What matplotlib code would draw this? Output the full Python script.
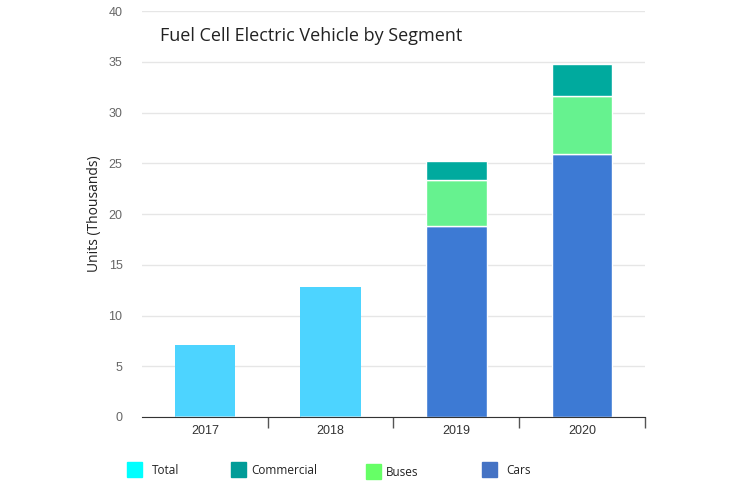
import matplotlib.pyplot as plt
import numpy as np
from matplotlib.patches import Rectangle

years = ["2017", "2018", "2019", "2020"]
total = [7.1, 12.8, 0, 0]
cars = [0, 0, 18.8, 25.9]
buses = [0, 0, 4.6, 5.7]
commercial = [0, 0, 1.8, 3.2]

c_total = "#4DD4FF"
c_comm = "#00AA9E"
c_bus = "#66F28F"
c_car = "#3D7AD4"

fig = plt.figure(figsize=(7.41, 4.86), dpi=100)
ax = fig.add_axes([0.1916, 0.142, 0.6788, 0.835])

x = np.arange(len(years))
w = 0.48
cars = np.array(cars)
buses = np.array(buses)
commercial = np.array(commercial)
ax.bar(x, total, w, color=c_total, zorder=2)
ax.bar(x, cars, w, color=c_car, edgecolor="white", linewidth=1, zorder=2)
ax.bar(x, buses, w, bottom=cars, color=c_bus, edgecolor="white", linewidth=1, zorder=2)
ax.bar(x, commercial, w, bottom=cars + buses, color=c_comm, edgecolor="white", linewidth=1, zorder=2)

ax.set_xlim(-0.5, 3.5)
ax.set_ylim(0, 40)
ax.set_yticks(range(0, 41, 5))
ax.grid(axis="y", color="#e6e6e6", linewidth=1, zorder=0)
for s in ["top", "right", "left"]:
    ax.spines[s].set_visible(False)
ax.spines["bottom"].set_color("#333333")
ax.tick_params(axis="y", length=0, labelsize=9, labelcolor="#666666", pad=14)
for t in ax.get_yticklabels():
    t.set_family("Liberation Sans")

ax.set_xticks([0.5, 1.5, 2.5, 3.5])
ax.set_xticklabels([])
ax.tick_params(axis="x", which="major", length=8, color="#555555", width=1)
ax.set_xticks(x, minor=True)
ax.set_xticklabels(years, minor=True, family="Liberation Sans")
ax.tick_params(axis="x", which="minor", length=0, labelsize=9, labelcolor="#333333", pad=6)

ax.set_ylabel("Units (Thousands)", fontsize=10, family="Open Sans", color="#222222", labelpad=5)
ax.text(0.035, 0.94, "Fuel Cell Electric Vehicle by Segment", transform=ax.transAxes,
        fontsize=13, family="Open Sans", color="#222222", va="center")

# legend along the bottom
items = [("Total", "#00FFFF", 127, 462, 152), ("Commercial", "#009C98", 231, 462, 251),
         ("Buses", "#66FF66", 366, 464, 386), ("Cars", "#4472C4", 482, 462, 506)]
for name, col, px, py, tx in items:
    fig.patches.append(Rectangle((px / 741, 1 - (py + 15) / 486), 15 / 741, 15 / 486,
                                 transform=fig.transFigure, color=col))
    fig.text(tx / 741, 1 - (py + 8) / 486, name, fontsize=8.5,
             family="Open Sans", color="#222222", va="center")

fig.savefig("out.png", dpi=100)
